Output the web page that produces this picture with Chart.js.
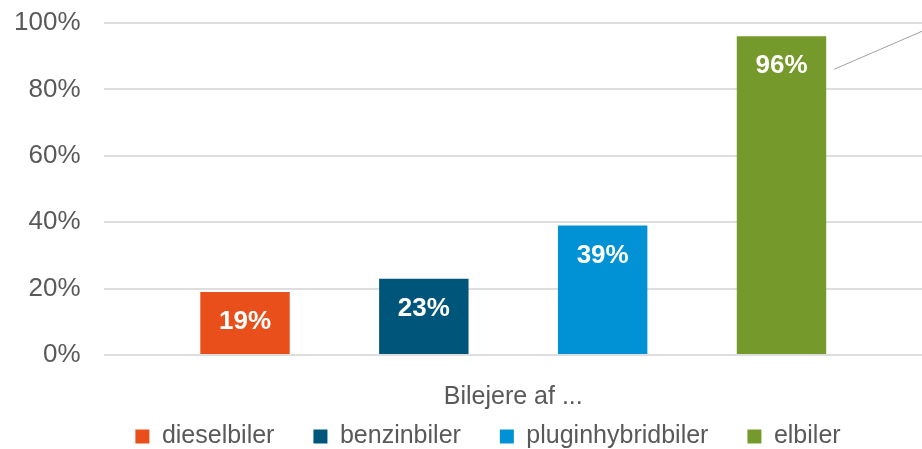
<!DOCTYPE html>
<html>
<head>
<meta charset="utf-8">
<script src="https://cdn.jsdelivr.net/npm/chart.js@4"></script>
<style>
  html, body { margin: 0; padding: 0; background: #fff; overflow: hidden; }
  #wrap { width: 922px; height: 449px; position: relative; }
</style>
</head>
<body>
<div id="wrap"><canvas id="ownersChart"></canvas></div>
<script>
const categories = ["Bilejere af ..."];
const seriesNames = ["dieselbiler", "benzinbiler", "pluginhybridbiler", "elbiler"];
const seriesValues = [19, 23, 39, 96];
const seriesColors = ["#E84F1B", "#00567A", "#0092D5", "#76992B"];
const yTicks = [0, 20, 40, 60, 80, 100];

const fontFamily = "'Liberation Sans', Arial, sans-serif";
const textGray = "#595959";

// white value labels inside the bars
const barLabels = {
    id: "barLabels",
    afterDatasetsDraw(chart) {
        const ctx = chart.ctx;
        ctx.save();
        ctx.fillStyle = "#fff";
        ctx.font = "bold 26px " + fontFamily;
        ctx.textAlign = "center";
        ctx.textBaseline = "middle";
        chart.data.datasets.forEach((ds, i) => {
            const bar = chart.getDatasetMeta(i).data[0];
            ctx.fillText(ds.data[0] + "%", bar.x, bar.y + 30);
        });
        ctx.restore();
    }
};

// thin leader line going out from the last bar
const leaderLine = {
    id: "leaderLine",
    afterDatasetsDraw(chart) {
        const bar = chart.getDatasetMeta(3).data[0];
        const ctx = chart.ctx;
        ctx.save();
        ctx.strokeStyle = "#a0a0a0";
        ctx.lineWidth = 1;
        ctx.beginPath();
        ctx.moveTo(bar.x + bar.width / 2 + 8, bar.y + 33);
        ctx.lineTo(chart.width, bar.y - 5);
        ctx.stroke();
        ctx.restore();
    }
};

// legend sits a bit right of the canvas centre in the original
const legendShift = {
    id: "legendShift",
    afterLayout(chart) {
        chart.legend.left += 32;
        chart.legend.right += 32;
    }
};

const datasets = seriesNames.map((name, i) => ({
    label: name,
    data: [seriesValues[i]],
    backgroundColor: seriesColors[i],
    categoryPercentage: 0.875,
    barPercentage: 0.5
}));

new Chart(document.getElementById("ownersChart"), {
    type: "bar",
    data: { labels: categories, datasets: datasets },
    plugins: [barLabels, leaderLine, legendShift],
    options: {
        responsive: true,
        maintainAspectRatio: false,
        animation: false,
        layout: { padding: { top: 0, right: 0, left: -10, bottom: -10 } },
        plugins: {
            tooltip: { enabled: false },
            legend: {
                position: "bottom",
                labels: {
                    boxWidth: 14,
                    boxHeight: 14,
                    padding: 39,
                    color: textGray,
                    font: { family: fontFamily, size: 25 }
                }
            }
        },
        scales: {
            x: {
                grid: { display: false, drawTicks: false },
                border: { display: false },
                ticks: { display: false },
                title: {
                    display: true,
                    text: categories[0],
                    color: textGray,
                    font: { family: fontFamily, size: 25 },
                    padding: { top: 27, bottom: -27 }
                }
            },
            y: {
                min: 0,
                max: 100,
                afterBuildTicks: (axis) => { axis.ticks = yTicks.map(v => ({ value: v })); },
                afterFit: (axis) => { axis.paddingTop = 23; axis.paddingBottom = 0; },
                grid: { color: "#dedede", lineWidth: 2, drawTicks: false },
                border: { display: false },
                ticks: {
                    padding: 24,
                    color: textGray,
                    font: { family: fontFamily, size: 26 },
                    callback: (v) => v + "%"
                }
            }
        }
    }
});
</script>
</body>
</html>
